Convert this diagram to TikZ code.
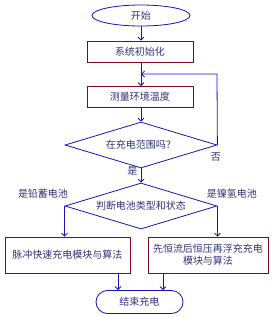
\documentclass[tikz,border=0pt]{standalone}
\usepackage{fontspec}
\setmainfont{Noto Sans CJK SC}
\usetikzlibrary{shapes.geometric,arrows.meta}
\definecolor{lineblue}{RGB}{20,20,190}
\definecolor{boxred}{RGB}{120,10,30}
\definecolor{textblue}{RGB}{50,50,120}
\tikzset{
  flow/.style={draw=lineblue, line width=0.8pt, -{Straight Barb[length=3pt,width=6pt]}},
  procbox/.style={draw=boxred, line width=0.8pt, rectangle, minimum height=21pt, text=textblue, font=\fontsize{10}{12}\selectfont, align=center},
  decide/.style={draw=lineblue, line width=0.8pt, diamond, aspect=3.3, inner sep=0pt, minimum width=152pt, minimum height=46pt, text=textblue, font=\fontsize{10}{12}\selectfont},
  term/.style={draw=lineblue, line width=0.8pt, text=textblue, font=\fontsize{10}{12}\selectfont},
  lbl/.style={text=textblue, font=\fontsize{10}{12}\selectfont}
}
\begin{document}
\begin{tikzpicture}[x=1pt,y=-1pt]
    \useasboundingbox (0,0) rectangle (275,317);

    % Start and initialisation
    \node[term, ellipse, minimum width=98pt, minimum height=21pt, inner sep=0pt] (start) at (141,15.5) {开始};
    \node[procbox, minimum width=106pt] (init) at (140,51.5) {系统初始化};
    \node[procbox, minimum width=106pt] (meas) at (140,97) {测量环境温度};

    % Range check
    \node[decide] (chk) at (141,145) {在充电范围吗？};
    \node[decide] (judge) at (141,206) {判断电池类型和状态};

    % Charging modules
    \node[procbox, minimum width=125pt, minimum height=36pt] (pulse) at (67.5,255) {脉冲快速充电模块与算法};
    \node[procbox, minimum width=120pt, minimum height=36pt, text width=116pt, inner sep=2pt] (cccv) at (208,255) {先恒流后恒压再浮充充电\\模块与算法};

    % End
    \node[term, rounded corners=11.5pt, minimum width=87pt, minimum height=23pt] (stop) at (139.5,302) {结束充电};

    % Connectors
    \draw[flow] (start) -- (start |- init.north);
    \draw[flow] (start |- init.south) -- (start |- meas.north);
    \draw[flow] (start |- meas.south) -- (chk.north);
    \draw[flow] (chk.south) -- (judge.north) node[lbl, pos=0.2, left] {是};
    \coordinate (fb) at (217,74);
    \draw[flow] (chk.east) -- (fb) -- (fb -| start);
    \node[lbl] (no) at (216,157) {否};

    \draw[flow] (judge.west) -- (judge.west |- pulse.north);
    \draw[flow] (judge.east) -- (judge.east |- cccv.north);
    \node[lbl] (lead) at (43,194) {是铅蓄电池};
    \node[lbl] (nimh) at (232,194) {是镍氢电池};

    \coordinate (p1) at (118,273);
    \coordinate (p2) at (163,273);
    \draw[flow] (p1) -- (p1 |- stop.north);
    \draw[flow] (p2) -- (p2 |- stop.north);
\end{tikzpicture}
\end{document}
